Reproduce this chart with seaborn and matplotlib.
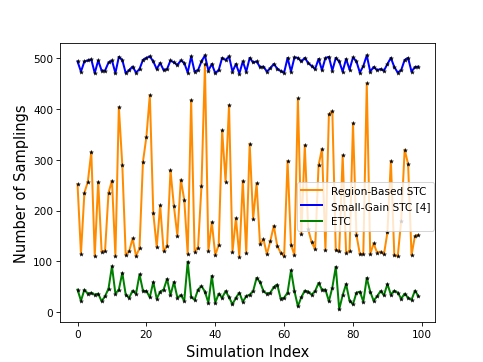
import numpy as np
import pandas as pd
import matplotlib
matplotlib.use('Agg')
import matplotlib.pyplot as plt
import seaborn as sns

# Dados (100 simulações)
indice = list(range(100))

region_based = [252, 115, 235, 257, 316, 110, 257, 119, 121, 235,
                259, 110, 404, 290, 112, 120, 145, 110, 126, 296,
                345, 428, 195, 128, 210, 120, 130, 279, 208, 150,
                261, 221, 114, 418, 119, 127, 249, 488, 120, 177,
                112, 132, 358, 257, 408, 118, 185, 109, 259, 116,
                332, 183, 254, 134, 143, 114, 140, 170, 130, 117,
                110, 298, 132, 112, 421, 153, 329, 163, 137, 124,
                289, 322, 122, 390, 396, 122, 120, 309, 117, 120,
                372, 152, 114, 115, 451, 114, 135, 117, 119, 114,
                157, 298, 112, 110, 180, 320, 292, 112, 150, 152]

small_gain = [494, 474, 494, 496, 498, 471, 496, 476, 476, 492,
              496, 471, 503, 497, 471, 477, 484, 472, 479, 497,
              501, 504, 494, 479, 491, 477, 479, 496, 492, 487,
              496, 491, 472, 504, 474, 477, 494, 506, 476, 489,
              471, 477, 501, 497, 504, 474, 489, 470, 494, 474,
              501, 492, 494, 483, 484, 474, 481, 489, 480, 475,
              472, 501, 474, 502, 501, 494, 501, 491, 485, 479,
              499, 477, 501, 503, 476, 501, 494, 474, 499, 478,
              502, 494, 472, 485, 506, 474, 483, 477, 479, 476,
              489, 501, 483, 472, 477, 497, 501, 474, 483, 484]

etc = [44, 22, 44, 36, 38, 34, 36, 21, 31, 46,
       90, 36, 44, 77, 34, 28, 42, 36, 74, 42,
       41, 29, 59, 26, 40, 44, 65, 33, 59, 28,
       33, 22, 99, 30, 24, 44, 51, 40, 18, 71,
       18, 36, 28, 41, 29, 15, 28, 38, 20, 31,
       34, 41, 67, 59, 41, 36, 38, 49, 54, 26,
       28, 38, 82, 41, 11, 29, 42, 40, 34, 41,
       57, 44, 44, 21, 48, 89, 5, 33, 55, 22,
       15, 38, 40, 20, 67, 40, 22, 31, 41, 33,
       55, 34, 42, 38, 26, 36, 28, 24, 42, 31]

series = [('Region-Based STC', region_based, 'darkorange'),
          ('Small-Gain STC [4]', small_gain, 'blue'),
          ('ETC', etc, 'green')]

fig, ax = plt.subplots(figsize=(6.4, 4.8), dpi=75.6)

for nome, valores, cor in series:
    df = pd.DataFrame({'x': indice, 'y': valores})
    sns.lineplot(data=df, x='x', y='y', color=cor, linewidth=1.9, label=nome, ax=ax)
    sns.scatterplot(data=df, x='x', y='y', marker='*', color='black', s=16,
                    edgecolor='black', linewidth=0.3, legend=False, ax=ax, zorder=3)

ax.set_xlabel('Simulation Index', fontsize=14)
ax.set_ylabel('Number of Samplings', fontsize=14)
ax.set_xticks([0, 20, 40, 60, 80, 100])
ax.set_yticks([0, 100, 200, 300, 400, 500])
ax.legend(loc='center right', bbox_to_anchor=(1.0, 0.415), borderaxespad=0.1, fontsize=10)

fig.savefig('out.png', dpi=75.6)
